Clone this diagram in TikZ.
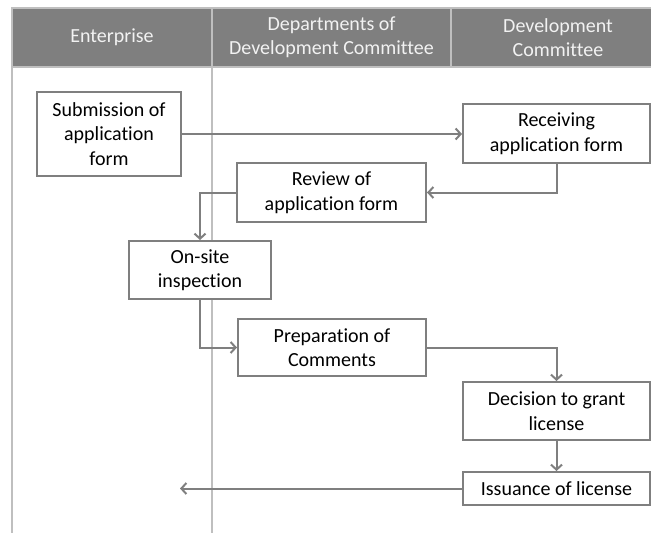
\documentclass[tikz,border=0pt]{standalone}
\usepackage{fontspec}
\setmainfont{Carlito}[Ligatures=NoCommon]
\usepackage{xcolor}
\usepackage{tikz}
\usetikzlibrary{arrows.meta}
\definecolor{lanegray}{HTML}{7F7F7F}
\definecolor{lanelight}{HTML}{BFBFBF}
\definecolor{lanetext}{HTML}{F2F2F2}
\tikzset{
  hdr/.style={draw=lanelight,fill=lanegray,line width=2pt,text=lanetext,align=center,inner sep=0pt,minimum height=59pt},
  box/.style={draw=lanegray,fill=white,line width=2pt,align=center,inner sep=0pt,text=black},
  lane/.style={draw=lanelight,line width=2pt},
  ar/.style={-{Straight Barb[length=5pt,width=11pt,line width=2pt]},draw=lanegray,line width=2pt},
}
\begin{document}
\begin{tikzpicture}[x=1pt,y=-1pt,font=\fontsize{20}{24.5}\selectfont]
  \useasboundingbox (0,0) rectangle (651,533);
  % lane lines
  \coordinate (laneA) at (12,67); \coordinate (laneB) at (212,67);
  \draw[lane] (laneA) -- ++(0,466);
  \draw[lane] (laneB) -- ++(0,466);
  % headers
  \node[hdr,minimum width=200pt] (hent) at (112,37.5) {Enterprise};
  \node[hdr,minimum width=239pt] (hdep) at (331.5,37.5) {Departments of\\Development Committee};
  \node[hdr,minimum width=214pt] (hcom) at (558,37.5) {Development\\Committee};
  % steps
  \node[box,minimum width=144pt,minimum height=84pt] (sub) at (109,134) {Submission of\\application\\form};
  \node[box,minimum width=187pt,minimum height=59pt] (recv) at (556.5,133.5) {Receiving\\application form};
  \node[box,minimum width=189pt,minimum height=59pt] (rev) at (331.5,192.5) {Review of\\application form};
  \node[box,minimum width=142pt,minimum height=58pt] (site) at (200,270) {On-site\\inspection};
  \node[box,minimum width=188pt,minimum height=57pt] (prep) at (332,347.5) {Preparation of\\Comments};
  \node[box,minimum width=187pt,minimum height=58pt] (dec) at (556.5,411) {Decision to grant\\license};
  \node[box,minimum width=187pt,minimum height=33pt] (iss) at (556.5,488.5) {Issuance of license};
  \coordinate (back) at (180,488.5);
  % flow
  \draw[ar] (sub.east) -- (sub.east -| recv.west);
  \draw[ar] (recv.south) |- (rev.east);
  \draw[ar] (rev.west) -| (site.north);
  \draw[ar] (site.south) |- (prep.west);
  \draw[ar] (prep.east) -| (dec.north);
  \draw[ar] (dec.south) -- (iss.north);
  \draw[ar] (iss.west) -- (back);
\end{tikzpicture}
\end{document}
